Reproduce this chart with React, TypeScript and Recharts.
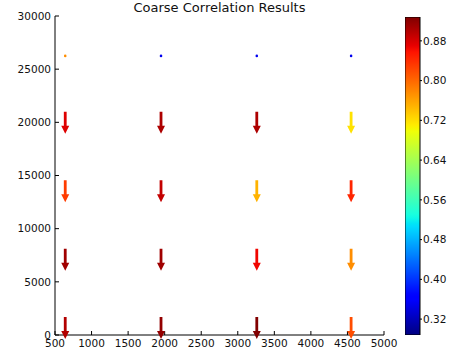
import { Bar, BarChart, Scatter, ScatterChart, XAxis, YAxis } from "recharts";

// grid of quiver origins (tail positions)
const xPositions = [640, 1950, 3260, 4550];
const rowY = [26250, 21000, 14550, 8100, 1700];
// vertical component per row; 0 = zero-length vector, drawn as a dot
const rowV = [0, -1, -1, -1, -1];
// correlation value per vector, drives the jet colour
const corrRows = [
  [0.775, 0.35, 0.35, 0.35],
  [0.876, 0.903, 0.903, 0.717],
  [0.83, 0.891, 0.749, 0.845],
  [0.91, 0.91, 0.866, 0.775],
  [0.9, 0.917, 0.927, 0.818],
];

const xTicks = [500, 1000, 1500, 2000, 2500, 3000, 3500, 4000, 4500, 5000];
const yTicks = [0, 5000, 10000, 15000, 20000, 25000, 30000];
const cbTicks = [0.32, 0.4, 0.48, 0.56, 0.64, 0.72, 0.8, 0.88];
const cMin = 0.288;
const cMax = 0.928;

const FONT = "'DejaVu Sans', sans-serif";
const ARROW_PX = 22; // pixels per unit vector length

// matplotlib "jet"
function jet(t: number): string {
  const c = (v: number) => Math.round(Math.max(0, Math.min(1, v)) * 255);
  let r = 0, g = 0, b = 0;
  if (t < 0.35) r = 0;
  else if (t < 0.66) r = (t - 0.35) / 0.31;
  else if (t < 0.89) r = 1;
  else r = 1 - ((t - 0.89) / 0.11) * 0.5;
  if (t < 0.125) g = 0;
  else if (t < 0.375) g = (t - 0.125) / 0.25;
  else if (t < 0.64) g = 1;
  else if (t < 0.91) g = (0.91 - t) / 0.27;
  else g = 0;
  if (t < 0.11) b = 0.5 + (t / 0.11) * 0.5;
  else if (t < 0.34) b = 1;
  else if (t < 0.65) b = (0.65 - t) / 0.31;
  else b = 0;
  return `rgb(${c(r)},${c(g)},${c(b)})`;
}

const colorFor = (v: number) => jet((v - cMin) / (cMax - cMin));

const vectors = rowY.flatMap((y, i) =>
  xPositions.map((x, j) => ({ x, y, u: 0, v: rowV[i], c: corrRows[i][j] })),
);

const gradientStops = Array.from({ length: 101 }, (_, i) => i / 100);

function QuiverArrow(props: any) {
  const { cx, cy, payload } = props;
  const color = colorFor(payload.c);
  const len = Math.hypot(payload.u, payload.v) * ARROW_PX;
  if (len < 1) return <circle cx={cx} cy={cy} r={1.3} fill={color} />;
  // direction in screen space (y flipped)
  const dx = payload.u / Math.hypot(payload.u, payload.v);
  const dy = -payload.v / Math.hypot(payload.u, payload.v);
  const px = -dy, py = dx;
  const shaft = 1.4, head = 4, headLen = 8;
  const pt = (a: number, s: number) => `${cx + dx * a + px * s},${cy + dy * a + py * s}`;
  const pts = [
    pt(0, -shaft), pt(0, shaft), pt(len - headLen, shaft), pt(len - headLen, head),
    pt(len, 0), pt(len - headLen, -head), pt(len - headLen, -shaft),
  ].join(" ");
  return <polygon points={pts} fill={color} />;
}

const tickStyle = { fill: "#111", fontSize: 10.5, fontFamily: FONT };

export default function App() {
  return (
    <div style={{ position: "absolute", left: 0, top: 0, width: 456, height: 358, background: "#fff" }}>
      <div
        style={{
          position: "absolute", left: 55, width: 329, top: 0, textAlign: "center",
          fontFamily: FONT, fontSize: 13, color: "#111", lineHeight: "15px",
        }}
      >
        Coarse Correlation Results
      </div>
      <div style={{ position: "absolute", left: 0, top: 0 }}>
        <ScatterChart width={456} height={358} margin={{ top: 16, right: 72, bottom: 0, left: 0 }}>
          <XAxis
            type="number" dataKey="x" domain={[500, 5000]} ticks={xTicks} height={23}
            tickSize={-4} tickMargin={9} stroke="#000" tick={tickStyle} interval={0}
          />
          <XAxis
            xAxisId="top" orientation="top" type="number" domain={[500, 5000]} ticks={xTicks}
            height={0} tickSize={-4} stroke="#000" tickFormatter={() => ""} interval={0}
          />
          <YAxis
            type="number" dataKey="y" domain={[0, 30000]} ticks={yTicks} width={55}
            tickSize={-4} tickMargin={8} stroke="#000" tick={tickStyle} interval={0}
          />
          <YAxis
            yAxisId="right" orientation="right" type="number" domain={[0, 30000]} ticks={yTicks}
            width={0} tickSize={-4} stroke="#000" tickFormatter={() => ""} interval={0}
          />
          <Scatter data={vectors} isAnimationActive={false} shape={(p: any) => <QuiverArrow {...p} />} />
        </ScatterChart>
      </div>
      <div style={{ position: "absolute", left: 405, top: 0 }}>
        <BarChart
          width={51} height={358} data={[{ name: "cb", range: [cMin, cMax] }]}
          margin={{ top: 17, right: 0, bottom: 23, left: 0 }} barCategoryGap={0}
        >
          <defs>
            <linearGradient id="jet" x1="0" y1="1" x2="0" y2="0">
              {gradientStops.map((t) => (
                <stop key={t} offset={t} stopColor={jet(t)} />
              ))}
            </linearGradient>
          </defs>
          <XAxis dataKey="name" hide />
          <YAxis
            orientation="right" type="number" domain={[cMin, cMax]} ticks={cbTicks} width={36}
            tickSize={2} tickMargin={1} axisLine={false} stroke="#000" tick={tickStyle}
            tickFormatter={(v: number) => v.toFixed(2)} interval={0} allowDataOverflow
          />
          <Bar dataKey="range" fill="url(#jet)" stroke="#000" strokeWidth={1} isAnimationActive={false} />
        </BarChart>
      </div>
    </div>
  );
}
